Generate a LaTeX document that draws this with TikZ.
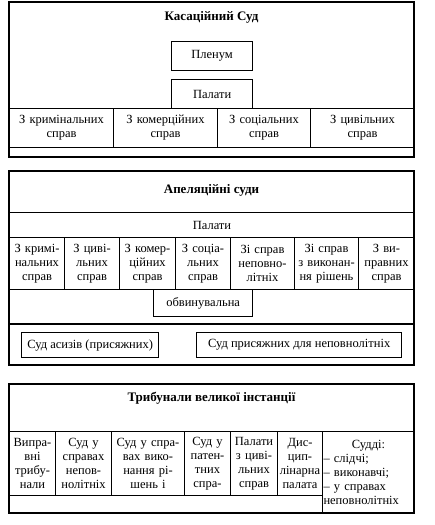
\documentclass[tikz,border=0pt]{standalone}
\usepackage{fontspec}
\setmainfont{Liberation Serif}
\begin{document}
\begin{tikzpicture}[x=1pt,y=-1pt,
  frame/.style={line width=1.2pt},
  cell/.style={draw, line width=1pt, anchor=north west, align=center, inner sep=1pt,
    font=\fontsize{12.5}{14}\selectfont},
  boxx/.style={draw, line width=1.3pt, anchor=north west, align=center, inner sep=1pt,
    font=\fontsize{12.5}{14}\selectfont},
  title/.style={font=\bfseries\fontsize{13}{15}\selectfont, inner sep=0pt}]
\useasboundingbox (0,0) rectangle (435,525);
\fill[white] (0,0) rectangle (435,525);

% ---- Section 1
\draw[frame] (9,2) rectangle (414,157);
\node[title] (t1) at (211.5,17) {Касаційний Суд};
\node[boxx, minimum width=81pt, minimum height=29pt] (plenum) at (171,41) {Пленум};
\node[boxx, minimum width=81pt, minimum height=29pt] (palaty1) at (171,79) {Палати};
\node[cell, minimum width=104pt, minimum height=39pt, text width=100pt] (k1) at (9,108) {З кримінальних\\справ};
\node[cell, minimum width=104pt, minimum height=39pt, text width=100pt] (k2) at (113,108) {З комерційних\\справ};
\node[cell, minimum width=93pt, minimum height=39pt, text width=89pt] (k3) at (217,108) {З соціальних\\справ};
\node[cell, minimum width=104pt, minimum height=39pt, text width=100pt] (k4) at (310,108) {З цивільних\\справ};

% ---- Section 2
\draw[frame] (9,171) rectangle (414,365);
\node[title] (t2) at (211.5,190) {Апеляційні суди};
\node[cell, minimum width=405pt, minimum height=25pt, text width=401pt] (palaty2) at (9,212) {Палати};
\node[cell, minimum width=55pt, minimum height=52pt, text width=53pt] (a1) at (9,237) {З кримі-\\нальних\\справ};
\node[cell, minimum width=55pt, minimum height=52pt, text width=53pt] (a2) at (64,237) {З циві-\\льних\\справ};
\node[cell, minimum width=56pt, minimum height=52pt, text width=54pt] (a3) at (119,237) {З комер-\\ційних\\справ};
\node[cell, minimum width=55pt, minimum height=52pt, text width=53pt] (a4) at (175,237) {З соціа-\\льних\\справ};
\node[cell, minimum width=64pt, minimum height=52pt, text width=62pt] (a5) at (230,237) {Зі справ\\неповно-\\літніх};
\node[cell, minimum width=64pt, minimum height=52pt, text width=62pt] (a6) at (294,237) {Зі справ\\з виконан-\\ня рішень};
\node[cell, minimum width=56pt, minimum height=52pt, text width=54pt] (a7) at (358,237) {З ви-\\правних\\справ};
\node[boxx, minimum width=99pt, minimum height=27pt] (obv) at (153,289) {обвинувальна};
\draw[line width=1.2pt] (9,324) -- (414,324);
\node[boxx, minimum width=137pt, minimum height=25pt] (asyz) at (21,332) {Суд асизів (присяжних)};
\node[boxx, minimum width=205pt, minimum height=25pt] (prys) at (196,332) {Суд присяжних для неповнолітніх};

% ---- Section 3
\draw[frame] (9,384) rectangle (414,513);
\node[title] (t3) at (211.5,398) {Трибунали великої інстанції};
\node[cell, minimum width=46pt, minimum height=64pt, text width=44pt] (b1) at (9,431) {Випра-\\вні\\трибу-\\нали};
\node[cell, minimum width=56pt, minimum height=64pt, text width=54pt] (b2) at (55,431) {Суд у\\справах\\непов-\\нолітніх};
\node[cell, minimum width=73pt, minimum height=64pt, text width=71pt] (b3) at (111,431) {Суд у спра-\\вах вико-\\нання рі-\\шень і};
\node[cell, minimum width=46pt, minimum height=64pt, text width=44pt] (b4) at (184,431) {Суд у\\патен-\\тних\\спра-};
\node[cell, minimum width=47pt, minimum height=64pt, text width=45pt] (b5) at (230,431) {Палати\\з циві-\\льних\\справ};
\node[cell, minimum width=45pt, minimum height=64pt, text width=43pt] (b6) at (277,431) {Дис-\\цип-\\лінарна\\палата};
\node[cell, align=left, minimum width=92pt, minimum height=82pt, text width=90pt] (b7) at (322,431) {\makebox[90pt]{Судді:}\\– слідчі;\\– виконавчі;\\– у справах\\неповнолітніх};
\end{tikzpicture}
\end{document}
